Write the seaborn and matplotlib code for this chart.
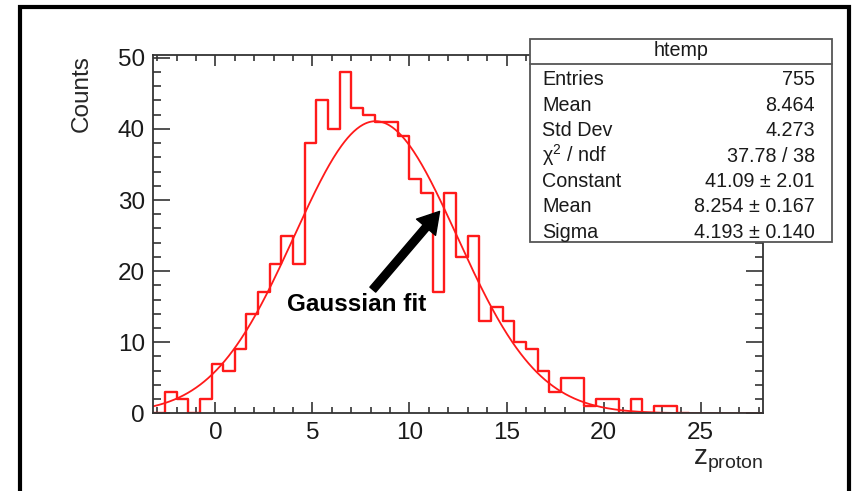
import numpy as np
import pandas as pd
import matplotlib
matplotlib.use("Agg")
import matplotlib.pyplot as plt
from matplotlib.patches import Rectangle
from matplotlib.lines import Line2D
from matplotlib.ticker import MultipleLocator
import seaborn as sns

# Histogram of z_proton: fixed-width bins starting at the lower range edge
bin_start = -3.2
bin_width = 0.6
bin_counts = [0, 3, 2, 0, 2, 7, 6, 9, 14, 17, 21, 25, 21, 38, 44, 40, 48, 43, 42, 41,
              41, 39, 33, 31, 17, 31, 22, 25, 13, 15, 13, 10, 9, 6, 3, 5, 5, 1, 2, 2,
              0, 2, 0, 1, 1, 0]

# Gaussian fit parameters
fit_constant = 41.09
fit_mean = 8.254
fit_sigma = 4.193

# Statistics box
stats_title = "htemp"
stats_names = ["Entries", "Mean", "Std Dev", "χ$^{2}$ / ndf", "Constant", "Mean", "Sigma"]
stats_values = ["755", "8.464", "4.273", "37.78 / 38", "41.09 ± 2.01",
                "8.254 ± 0.167", "4.193 ± 0.140"]

x_range = (-3.2, 28.2)
y_range = (0, 50.4)

sns.set_style("ticks")
plt.rcParams["font.family"] = ["Liberation Sans", "DejaVu Sans"]
plt.rcParams["mathtext.fontset"] = "custom"
plt.rcParams["mathtext.rm"] = "Liberation Sans"
plt.rcParams["mathtext.it"] = "Liberation Sans:italic"
plt.rcParams["mathtext.bf"] = "Liberation Sans:bold"

W, H = 852, 491
fig = plt.figure(figsize=(W / 100, H / 100), dpi=100)
fig.patch.set_facecolor("white")

ax_left, ax_right, ax_top, ax_bottom = 153.3, 762.7, 55.0, 413.3
ax = fig.add_axes([ax_left / W, 1 - ax_bottom / H,
                   (ax_right - ax_left) / W, (ax_bottom - ax_top) / H])

counts = np.array(bin_counts, dtype=float)
edges = bin_start + bin_width * np.arange(len(counts) + 1)
centers = 0.5 * (edges[:-1] + edges[1:])
hist_df = pd.DataFrame({"z_proton": centers, "counts": counts})

sns.histplot(data=hist_df, x="z_proton", weights="counts", bins=[float(e) for e in edges],
             element="step", fill=False, color="#ff1a1a", linewidth=1.7, ax=ax)

# Fitted Gaussian curve
xs = np.linspace(x_range[0], x_range[1], 600)
fit_df = pd.DataFrame({"x": xs,
                       "y": fit_constant * np.exp(-0.5 * ((xs - fit_mean) / fit_sigma) ** 2)})
sns.lineplot(data=fit_df, x="x", y="y", color="#ff1a1a", linewidth=1.3, ax=ax)

ax.set_xlim(*x_range)
ax.set_ylim(*y_range)

ax.xaxis.set_major_locator(MultipleLocator(5))
ax.xaxis.set_minor_locator(MultipleLocator(1))
ax.yaxis.set_major_locator(MultipleLocator(10))
ax.yaxis.set_minor_locator(MultipleLocator(2))

axis_color = "#333333"
for s in ax.spines.values():
    s.set_visible(True)
    s.set_color(axis_color)
    s.set_linewidth(1.3)
ax.tick_params(which="both", direction="in", top=True, right=True,
               color=axis_color, width=1.2, labelsize=17.5, labelcolor="#1a1a1a")
ax.tick_params(axis="x", which="major", length=8, pad=6)
ax.tick_params(axis="x", which="minor", length=4)
ax.tick_params(axis="y", which="major", length=12.5, pad=6)
ax.tick_params(axis="y", which="minor", length=6)

ax.set_ylabel("Counts", fontsize=17.5, loc="top")
ax.yaxis.set_label_coords(-0.1, 1.0)
ax.set_xlabel(r"z$_{\mathrm{proton}}$", fontsize=20, loc="right")
ax.xaxis.set_label_coords(1.0, -0.095)

# Annotation arrow pointing at the fit
ax.annotate("", xy=(11.55, 28.4), xytext=(8.11, 17.4),
            arrowprops=dict(facecolor="black", edgecolor="black",
                            width=5.5, headwidth=18, headlength=15, shrink=0))
ax.text(7.3, 15.3, "Gaussian fit", fontsize=17.5, fontweight="bold",
        ha="center", va="center", color="black")

# Statistics box in figure pixel coordinates
def fx(px):
    return px / W

def fy(py):
    return 1 - py / H

box_l, box_r, box_t, box_b = 530, 832, 38.5, 242
fig.add_artist(Rectangle((fx(box_l), fy(box_b)), fx(box_r) - fx(box_l), fy(box_t) - fy(box_b),
                         transform=fig.transFigure, facecolor="white",
                         edgecolor="#555555", linewidth=1.3, zorder=10))
fig.add_artist(Line2D([fx(box_l), fx(box_r)], [fy(63.5), fy(63.5)],
                      transform=fig.transFigure, color="#555555", linewidth=1.3, zorder=11))
fig.text(fx((box_l + box_r) / 2), fy(56.5), stats_title, fontsize=14.2,
         ha="center", va="baseline", color="#1a1a1a", zorder=12)
row_base = 85.5
row_step = 25.4
for i, (name, val) in enumerate(zip(stats_names, stats_values)):
    yb = fy(row_base + i * row_step)
    fig.text(fx(542), yb, name, fontsize=14.2, ha="left", va="baseline",
             color="#1a1a1a", zorder=12)
    fig.text(fx(815), yb, val, fontsize=14.2, ha="right", va="baseline",
             color="#1a1a1a", zorder=12)

# Outer frame
fig.add_artist(Rectangle((fx(19.5), -0.1), fx(848.5) - fx(19.5), fy(6.5) + 0.1,
                         transform=fig.transFigure, facecolor="none",
                         edgecolor="black", linewidth=3, zorder=20, clip_on=False))

fig.savefig("out.png", dpi=100)
